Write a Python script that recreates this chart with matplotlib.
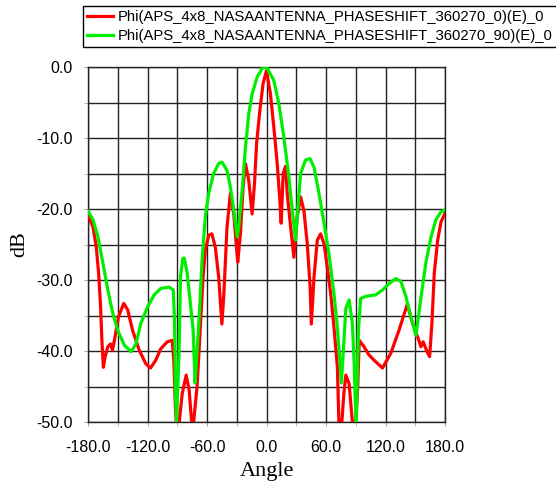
import numpy as np
import matplotlib
matplotlib.use('Agg')
import matplotlib.pyplot as plt

# ── Data (angle in deg, gain in dB) ────────────────────────────────────────────
red_angle = [-180, -175, -171.7, -169.3, -167.3, -166, -164.5, -162.7, -160, -157.3,
             -155.3, -152.7, -149.3, -144, -140, -135, -128.3, -121.7, -117, -111.7,
             -106.7, -100, -95, -93.3, -92, -91, -88, -85, -81, -78,
             -75.5, -73.5, -70, -66.7, -64, -61.7, -58.3, -55, -51.6, -48.2,
             -45, -43, -39.8, -36.4, -33, -30.3, -29, -26.3, -23.6, -21.2,
             -17.9, -14.5, -12.1, -10, -6.7, -3.4, 0, 4, 7.4, 10.8,
             13.5, 14.8, 16.8, 19.2, 20.9, 24.3, 27.6, 31, 34.4, 37.7,
             41.1, 44, 45.2, 47.9, 51.2, 54.6, 58, 61.3, 64.7, 68,
             71.5, 73, 76, 78, 80, 83.3, 86.6, 90, 92, 93.5,
             98.4, 103, 108.5, 117, 125.4, 133.8, 142, 147.3, 152.4, 155.7,
             158, 162.5, 164.5, 166.8, 169.2, 172.6, 176, 180]
red_db = [-20.8, -22.5, -25.3, -29, -33.8, -38.5, -42.3, -40.8, -39.4, -39,
          -39.9, -38, -35.2, -33.3, -34.2, -37.1, -39.9, -41.8, -42.4, -41.3,
          -39.7, -38.7, -38.5, -41.8, -47.5, -50, -50, -46, -43.4, -45.5,
          -50, -50, -45, -36.6, -29.6, -25.8, -23.7, -23.5, -25.4, -29.6,
          -36.2, -32, -22.5, -17.8, -20.7, -25.4, -27.5, -23.5, -16.9, -13.6,
          -16, -20.7, -16.4, -10.8, -6.1, -2.3, -0.5, -3.8, -8.5, -13.6,
          -18.8, -22, -15, -14, -17.8, -22.5, -26.8, -21.1, -18.3, -20.2,
          -24.9, -31, -36.2, -29.6, -24.4, -23.5, -24.9, -28.2, -31.9, -36.6,
          -42.3, -50, -50, -46, -43.4, -44.6, -50, -50, -45, -38.5,
          -39.4, -40.5, -41.3, -42.4, -40.3, -37, -33.4, -36.1, -38, -39.4,
          -38.7, -40.3, -40.8, -36.1, -29, -24.4, -21.8, -20.6]

green_angle = [-180, -175, -170, -165, -160, -155, -150, -143.3, -136.5, -131.7,
               -126.7, -120, -113.3, -106.7, -98.3, -94, -92.7, -91.7, -90.7, -89.5,
               -88.3, -86.7, -84.5, -83, -80, -77, -74, -72, -70.5, -68.4,
               -65, -61.7, -58.3, -53.3, -48.2, -44.8, -39.8, -36.4, -33, -29.5,
               -28, -24.6, -21.2, -17.9, -14.5, -9.4, -4.4, 0, 7.4, 12.5,
               17.5, 22.6, 26, 29.3, 31.7, 34.4, 39.4, 43.8, 47.9, 52.9,
               58, 63, 68, 71, 73.5, 75.5, 77.5, 80, 83.3, 86.6,
               88.5, 89.5, 90.5, 91.5, 92.7, 95, 100, 110, 117, 123.7,
               130.4, 135.5, 140.5, 145.6, 150.7, 155.7, 160.8, 165.8, 170.9, 176,
               180]
green_db = [-20.3, -21.5, -23.9, -27.6, -31.4, -34.7, -37.1, -39.2, -40.1, -39,
            -36.1, -33.8, -32.1, -31.2, -31, -31.4, -36, -46.5, -50, -45,
            -40.8, -29.5, -27, -26.9, -29, -33, -37, -44.5, -41, -36.6,
            -27.2, -21.1, -17.8, -15, -13.6, -13.4, -14.6, -16.9, -20.2, -23.9,
            -22.5, -17.4, -11.3, -6.6, -3.8, -1.4, -0.2, 0, -1.9, -5.2,
            -9.9, -15.5, -20.2, -24.4, -19.7, -15, -13.1, -12.9, -14.1, -17.8,
            -22, -26.3, -31.9, -36, -40.5, -44.5, -40, -34, -32.8, -36.1,
            -42, -47, -50, -44, -37, -32.6, -32.3, -32.1, -31.4, -30.5,
            -29.8, -30.2, -32.3, -35.2, -37.8, -32.5, -27.5, -24, -21.5, -20.4,
            -20.1]

labels = ['Phi(APS_4x8_NASAANTENNA_PHASESHIFT_360270_0)(E)_0',
          'Phi(APS_4x8_NASAANTENNA_PHASESHIFT_360270_90)(E)_0']
x_ticks = [-180, -120, -60, 0, 60, 120, 180]
y_ticks = [0, -10, -20, -30, -40, -50]

# ── Plot ──────────────────────────────────────────────────────────────────────
plt.rcParams['font.family'] = ['Liberation Sans', 'DejaVu Sans']

W, H = 556, 488
fig = plt.figure(figsize=(W / 100, H / 100), dpi=100)
ax = fig.add_axes([88 / W, 1 - 422 / H, 357 / W, 355 / H])

l1, = ax.plot(red_angle, red_db, color='#ff0000', linewidth=2.3, zorder=3)
l2, = ax.plot(green_angle, green_db, color='#00ee00', linewidth=2.3, zorder=4)

ax.set_xlim(-180, 180)
ax.set_ylim(-50, 0)
ax.set_xticks(x_ticks)
ax.set_xticklabels([f'{v:.1f}' for v in x_ticks])
ax.set_yticks(y_ticks)
ax.set_yticklabels([f'{v:.1f}' for v in y_ticks])
ax.set_xticks(np.arange(-180, 181, 30), minor=True)
ax.set_yticks(np.arange(-50, 1, 5), minor=True)
ax.grid(True, which='both', color='#222222', linewidth=1.0)
ax.set_axisbelow(True)
ax.tick_params(which='both', direction='out', length=3, color='#aaaaaa',
               labelsize=11.5, pad=8)
ax.tick_params(axis='x', pad=10)
for s in ax.spines.values():
    s.set_color('#222222')
    s.set_linewidth(1.0)

ax.set_xlabel('Angle', family='Liberation Serif', fontsize=16, labelpad=5)
ax.set_ylabel('dB', family='Liberation Serif', fontsize=16, labelpad=5)

leg = fig.legend([l1, l2], labels, loc='upper left',
                 bbox_to_anchor=(83 / W, 1 - 6 / H), fontsize=10.7,
                 frameon=True, fancybox=False, edgecolor='black',
                 framealpha=1, borderpad=0.3, borderaxespad=0,
                 handlelength=1.7, handletextpad=0.35, labelspacing=0.3)
leg.get_frame().set_linewidth(1.0)

plt.savefig('out.png', dpi=100)
